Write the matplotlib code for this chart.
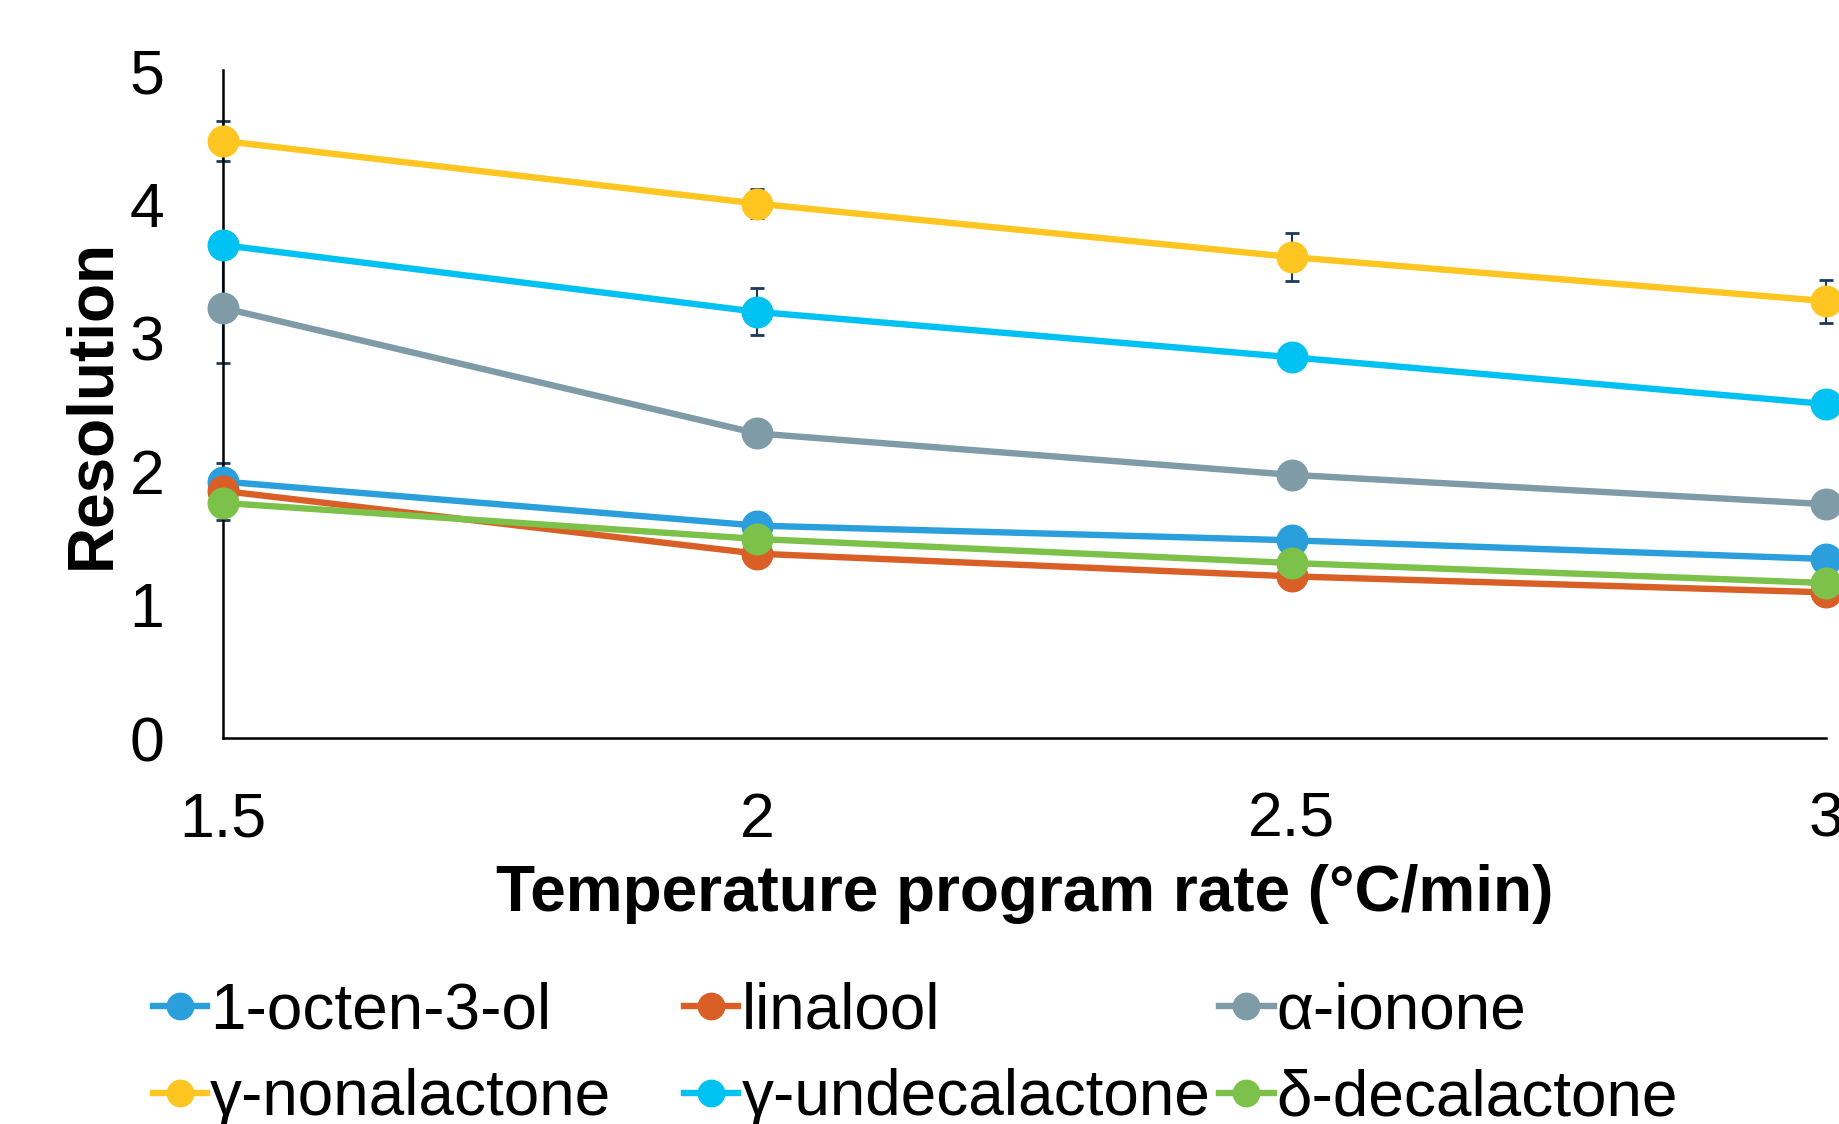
import matplotlib.pyplot as plt
from matplotlib.lines import Line2D

plt.rcParams['font.family'] = ['Liberation Sans', 'DejaVu Sans']

rates = [1.5, 2, 2.5, 3]

octenol = [1.92, 1.59, 1.48, 1.34]
linalool = [1.85, 1.38, 1.21, 1.09]
ionone = [3.22, 2.28, 1.97, 1.75]
nonalactone = [4.47, 4.00, 3.60, 3.27]
undecalactone = [3.69, 3.19, 2.85, 2.50]
decalactone = [1.76, 1.49, 1.31, 1.16]

octenol_err = [0.14, 0.04, 0.04, 0.03]
linalool_err = [0.10, 0.03, 0.03, 0.03]
ionone_err = [0.41, 0.05, 0.04, 0.04]
nonalactone_err = [0.15, 0.11, 0.18, 0.16]
undecalactone_err = [0.10, 0.175, 0.05, 0.05]
decalactone_err = [0.13, 0.03, 0.03, 0.03]

names = ["1-octen-3-ol", "linalool", "α-ionone",
         "γ-nonalactone", "γ-undecalactone", "δ-decalactone"]
colors = ["#2A9FDC", "#D95F26", "#7F9BA8", "#FFC520", "#00C2F2", "#7CC24A"]

series = [octenol, linalool, ionone, nonalactone, undecalactone, decalactone]
errors = [octenol_err, linalool_err, ionone_err, nonalactone_err,
          undecalactone_err, decalactone_err]

fig = plt.figure(figsize=(18.39, 11.24), dpi=100)
ax = fig.add_axes([0.121, 0.3434, 0.872, 0.5943])

# error bars first, lines on top
for vals, err in zip(series, errors):
    ax.errorbar(rates, vals, yerr=err, fmt='none', ecolor='#1B3A57',
                elinewidth=1.5, capsize=5, capthick=2, clip_on=False, zorder=2)

for vals, name, c in zip(series, names, colors):
    ax.plot(rates, vals, color=c, lw=4.6, marker='o', markersize=22,
            markerfacecolor=c, markeredgecolor=c, label=name,
            clip_on=False, zorder=3)

ax.set_xlim(1.5, 3)
ax.set_ylim(0, 5)
ax.set_xticks(rates)
ax.set_xticklabels(["1.5", "2", "2.5", "3"])
ax.set_yticks([0, 1, 2, 3, 4, 5])
ax.tick_params(axis='both', length=0, labelsize=45)
ax.tick_params(axis='x', pad=38)
ax.tick_params(axis='y', pad=42)
for s in ['top', 'right']:
    ax.spines[s].set_visible(False)
for s in ['left', 'bottom']:
    ax.spines[s].set_linewidth(1.8)
    ax.spines[s].set_color('black')

ax.set_xlabel("Temperature program rate (°C/min)", fontsize=46,
              fontweight='bold', labelpad=10)
ax.set_ylabel("Resolution", fontsize=46, fontweight='bold', labelpad=5)

# legend: three columns placed at fixed positions like the original
col_x = [0.083, 0.372, 0.663]
for k in range(3):
    hs = []
    for idx in (k, k + 3):
        hs.append(Line2D([0], [0], color=colors[idx], lw=4.6, marker='o',
                         markersize=19, markerfacecolor=colors[idx],
                         markeredgecolor=colors[idx], label=names[idx]))
    fig.legend(handles=hs, loc='upper left', bbox_to_anchor=(col_x[k], 0.127),
               frameon=False, fontsize=46, handlelength=0.85,
               handletextpad=0.05, labelspacing=0.42, borderaxespad=0,
               borderpad=0)

fig.savefig("out.png", dpi=100)
